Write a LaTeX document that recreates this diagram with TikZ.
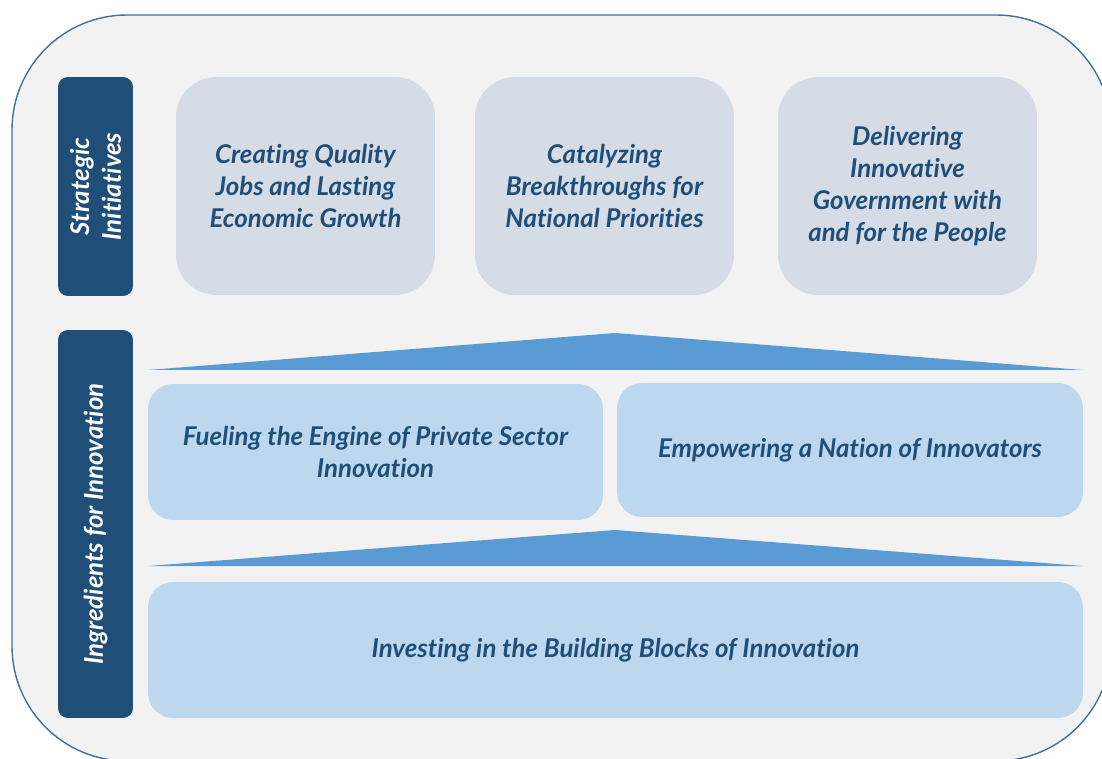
\documentclass[tikz,border=0pt]{standalone}
\usepackage{fontspec}
\setmainfont{Lato}[Ligatures=NoCommon]
\usetikzlibrary{positioning}
\definecolor{navy}{HTML}{1F4E79}
\definecolor{frame}{HTML}{41719C}
\definecolor{paper}{HTML}{F2F2F2}
\definecolor{slate}{HTML}{D6DCE5}
\definecolor{sky}{HTML}{BDD7EE}
\definecolor{wedge}{HTML}{5B9BD5}
\tikzset{
  sidelabel/.style={fill=navy,text=white,rounded corners=0.2cm,rotate=90,align=center,
    inner sep=0pt,font=\bfseries\itshape\fontsize{14.7}{18}\selectfont},
  initbox/.style={fill=slate,text=navy,rounded corners=0.8cm,align=center,inner sep=0pt,
    minimum width=5.18cm,minimum height=4.36cm,font=\bfseries\itshape\fontsize{14.7}{18.2}\selectfont},
  ingrbox/.style={fill=sky,text=navy,rounded corners=0.5cm,align=center,inner sep=0pt,
    font=\bfseries\itshape\fontsize{14.7}{18.2}\selectfont},
  wedgefill/.style={fill=wedge,draw=none}
}
\begin{document}
\begin{tikzpicture}[x=0.02cm,y=0.02cm]
  \useasboundingbox (0,0) rectangle (1102,758);
  \clip (0,0) rectangle (1102,758);
  % outer frame
  \draw[frame,fill=paper,line width=0.8pt,rounded corners=2.3cm] (12,743) rectangle (1111,-3);
  % side labels
  \node[sidelabel,minimum width=4.38cm,minimum height=1.5cm] (strat) at (95.5,571.5) {Strategic\\Initiatives};
  \node[sidelabel,minimum width=7.76cm,minimum height=1.5cm] (ingr) at (95.5,234) {Ingredients for Innovation};
  % strategic initiatives
  \node[initbox] (jobs) at (305.5,572) {Creating Quality\\Jobs and Lasting\\Economic Growth};
  \node[initbox] (breaks) at (604.5,572) {Catalyzing\\Breakthroughs for\\National Priorities};
  \node[initbox] (govt) at (907.5,572) {Delivering\\Innovative\\Government with\\and for the People};
  % wedges
  \coordinate (w1l) at (148,388);
  \coordinate (w1r) at (1083,388);
  \coordinate (w1t) at (615,425);
  \fill[wedgefill] (w1l) -- (w1t) -- (w1r) -- cycle;
  \coordinate (w2l) at (148,192);
  \coordinate (w2r) at (1083,192);
  \coordinate (w2t) at (615,228);
  \fill[wedgefill] (w2l) -- (w2t) -- (w2r) -- cycle;
  % ingredients
  \node[ingrbox,minimum width=9.1cm,minimum height=2.72cm] (fuel) at (375.5,306) {Fueling the Engine of Private Sector\\Innovation};
  \node[ingrbox,minimum width=9.32cm,minimum height=2.68cm] (empower) at (850,308) {Empowering a Nation of Innovators};
  \node[ingrbox,minimum width=18.7cm,minimum height=2.72cm] (blocks) at (615.5,108) {Investing in the Building Blocks of Innovation};
\end{tikzpicture}
\end{document}
